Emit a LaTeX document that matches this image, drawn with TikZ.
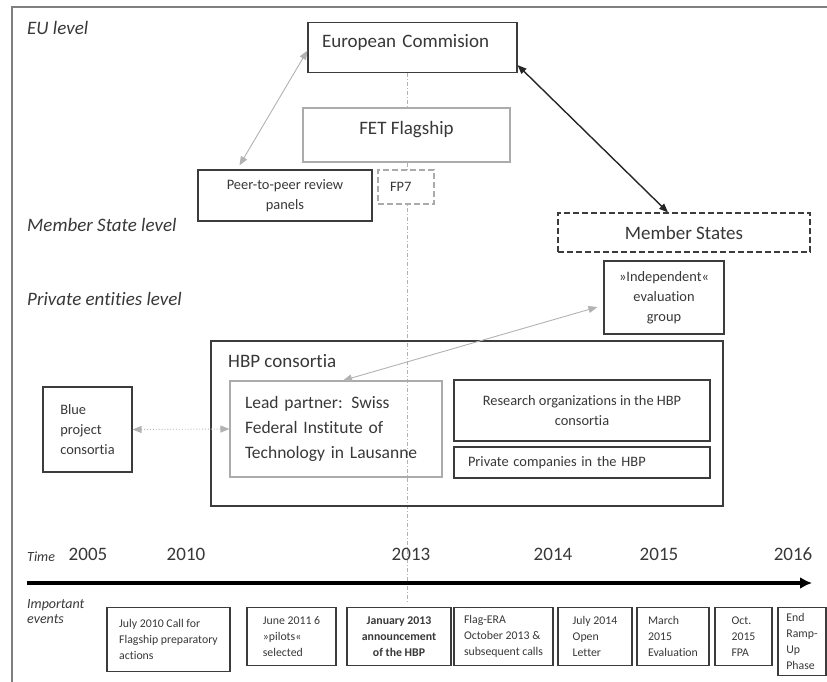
\documentclass[tikz,border=0pt]{standalone}
\usepackage{fontspec}
\setmainfont[Ligatures=NoCommon]{Carlito}
\usetikzlibrary{arrows.meta,backgrounds}
\definecolor{boxline}{HTML}{3C3C3C}
\definecolor{softline}{HTML}{ABABAB}
\definecolor{txt}{HTML}{383838}
\definecolor{arrowgray}{HTML}{B2B2B2}
\tikzset{box/.style={draw=boxline,line width=1.1pt,fill=white,text=txt,align=center,inner sep=0pt}}
\tikzset{softbox/.style={box,draw=softline}}
\tikzset{dashbox/.style={box,dash pattern=on 6pt off 3pt}}
\tikzset{big/.style={font=\fontsize{19}{25}\selectfont}}
\tikzset{mid/.style={font=\fontsize{14.4}{20}\selectfont}}
\tikzset{small/.style={font=\fontsize{11.8}{16}\selectfont}}
\tikzset{level/.style={font=\fontsize{19}{23}\selectfont\itshape,text=txt,anchor=base west,inner sep=0pt}}
\tikzset{title/.style={level,font=\fontsize{19}{23}\selectfont}}
\tikzset{eventbox/.style={box,small,align=left,anchor=north}}
\tikzset{link/.style={arrowgray,line width=0.9pt,{Triangle[length=9pt,width=7pt]}-{Triangle[length=9pt,width=7pt]}}}
\tikzset{strong/.style={link,black!85,line width=1.4pt}}
\tikzset{timeline/.style={black,line width=4pt,-{Latex[length=12pt,width=12pt]}}}

\begin{document}
\begin{tikzpicture}[x=1pt,y=-1pt]
    \useasboundingbox (0,0) rectangle (827,682);

    % level labels
    \node[level] (eulvl) at (27,35) {EU level};
    \node[level] (mslvl) at (27,231) {Member State level};
    \node[level] (pelvl) at (27,305) {Private entities level};

    % EU level
    \node[box,big,minimum width=209,minimum height=50,text width=181,align=left,text height=13pt,text depth=13pt] (ec) at (412.5,47.5) {European Commision};
    \node[softbox,big,minimum width=207,minimum height=54,text height=13pt,text depth=13pt] (fet) at (406.5,135) {FET Flagship};
    \node[box,mid,minimum width=174,minimum height=51] (peer) at (285,195.5) {Peer-to-peer review\\panels};
    \node[dashbox,draw=softline,mid,minimum width=56,minimum height=34,text width=32,align=left] (fp7) at (406,187) {FP7};

    % member states and private entities
    \node[dashbox,big,minimum width=252,minimum height=39] (ms) at (684,232.5) {Member States};
    \node[box,mid,minimum width=120,minimum height=73] (indep) at (664,297.5) {»Independent«\\evaluation\\group};
    \node[box,fill=none,minimum width=512,minimum height=165] (hbp) at (467,423.5) {};
    \node[title] (hbptitle) at (228,367) {HBP consortia};
    \node[softbox,fill=none,font=\fontsize{17.5}{25}\selectfont,minimum width=212,minimum height=96,text width=182,align=left] (lead) at (336,429) {Lead partner: Swiss\\Federal Institute of\\Technology in Lausanne};
    \node[box,mid,minimum width=256,minimum height=61] (research) at (582,410.5) {Research organizations in the HBP\\consortia};
    \node[box,mid,minimum width=256,minimum height=31,text width=228,align=left] (private) at (582,462.5) {Private companies in the HBP};
    \node[box,mid,minimum width=89,minimum height=85,align=left] (blue) at (87.5,429.5) {Blue\\project\\consortia};

    % time axis
    \node[level,font=\fontsize{14}{16}\selectfont\itshape] (time) at (27,561) {Time};
    \foreach \yr/\xx in {2005/88,2010/186,2013/411,2014/553,2015/659,2016/793}
      \node[big,text=txt,anchor=base,inner sep=0pt] (y\yr) at (\xx,560) {\yr};
    \coordinate (tstart) at (27,583);
    \coordinate (tend) at (812,583);
    \draw[timeline] (tstart) -- (tend);

    % events
    \node[level,font=\fontsize{14}{15}\selectfont\itshape,anchor=north west,align=left] (events) at (27,599) {Important\\events};
    \foreach \id/\cx/\w/\h/\txt in {
      1/168.5/123/64/{July 2010 Call for\\Flagship preparatory\\actions},
      2/291.5/89/58/{June 2011 6\\»pilots«\\selected},
      4/503.5/99/58/{Flag-ERA\\October 2013 \&\\subsequent calls},
      5/595/74/58/{July 2014\\Open\\Letter},
      6/673/72/58/{March\\2015\\Evaluation},
      7/743.5/57/58/{Oct.\\2015\\FPA},
      8/802/48/68/{End\\Ramp-\\Up\\Phase}}
      \node[eventbox,minimum width=\w,minimum height=\h] (ev\id) at (\cx,607) {\txt};
    \node[eventbox,align=center,font=\fontsize{11.8}{16}\selectfont\bfseries,minimum width=104,minimum height=58] (ev3) at (399,607) {January 2013\\announcement\\of the HBP};

    % connectors
    \draw[link] ([yshift=-3]ec.west) -- ([xshift=42,yshift=4]peer.north west);
    \draw[strong] ([yshift=8]ec.south east) -- ([xshift=-16]ms.north);
    \draw[link] ([xshift=-6,yshift=-9.5]indep.west) -- ([xshift=7]lead.north);
    \draw[link,dotted] (blue.east) -- (lead.west);

    \coordinate (cut) at (407,603);
    \begin{scope}[on background layer]
      \draw[arrowgray,line width=0.8pt,dash pattern=on 4pt off 2pt on 1pt off 2pt] (cut |- ec.south) -- (cut);
      \draw[gray,line width=1.5pt] (827,7) -- (12,7) -- (12,682);
    \end{scope}

\end{tikzpicture}
\end{document}
